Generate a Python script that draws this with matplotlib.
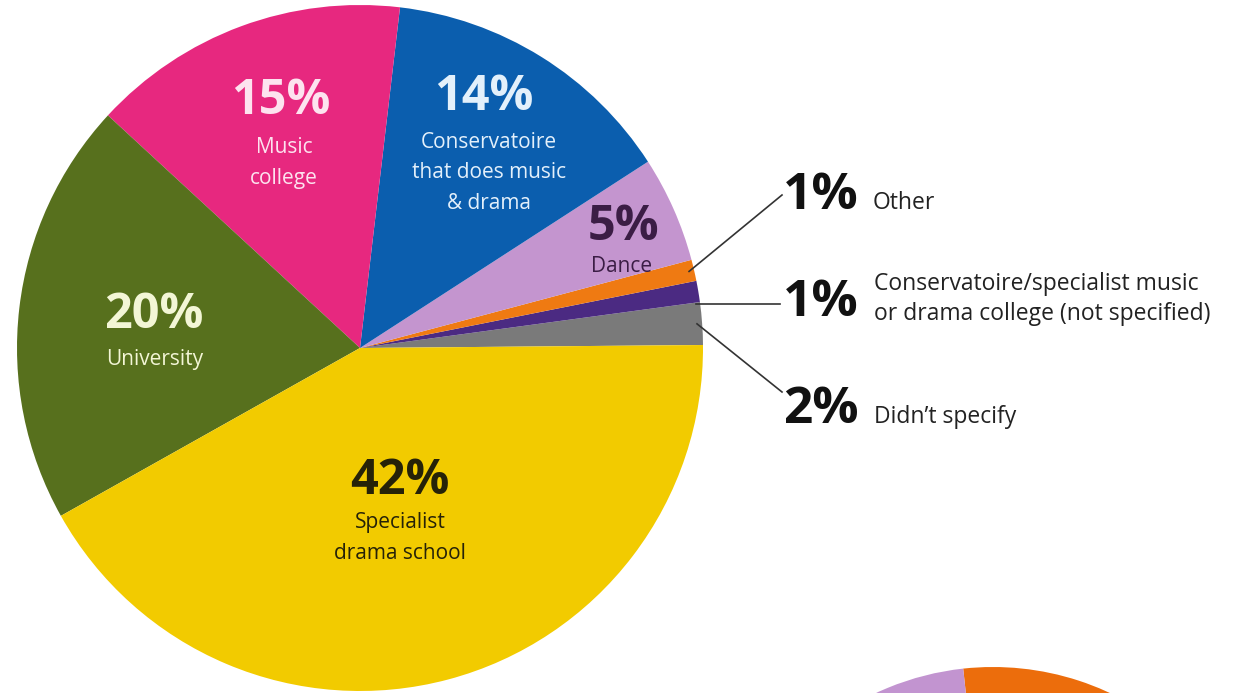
import matplotlib
matplotlib.use("Agg")
import matplotlib.pyplot as plt
import numpy as np

plt.rcParams['font.family'] = ['Open Sans', 'DejaVu Sans']

# main pie, counter-clockwise from the right-hand edge
categories = ["Didn\u2019t specify",
              "Conservatoire/specialist music\nor drama college (not specified)",
              "Other", "Dance",
              "Conservatoire\nthat does music\n& drama",
              "Music\ncollege", "University",
              "Specialist\ndrama school"]
shares = [2, 1, 1, 5, 14, 15, 20, 42]
colors = ['#7a7a7a', '#4b2a82', '#ef7a12', '#c495cf', '#0b5eae',
          '#e7287f', '#57701d', '#f2cb00']

# second pie, only its top edge is visible at the bottom
second_shares = [27, 9, 64]
second_colors = ['#ec6d0c', '#c294d0', '#f2cb00']

W, H = 1236, 693


def Y(y):
    return H - y


fig = plt.figure(figsize=(12.36, 6.93), dpi=100)
ax = fig.add_axes([0, 0, 1, 1])

wedges, _ = ax.pie(shares, colors=colors, startangle=0.5, radius=343,
                   center=(360, Y(348)), wedgeprops=dict(linewidth=0))
ax.pie(second_shares, colors=second_colors, startangle=-1, radius=276,
       center=(993, Y(943)), wedgeprops=dict(linewidth=0))

ax.set_xlim(0, W)
ax.set_ylim(0, H)
ax.axis('off')

# labels inside the pie: (index, pct pos, label pos, colour)
inside = [(6, (154, 315), (155, 359), '#f3f6d6'),
          (5, (281, 102), (284, 163), '#fde3ef'),
          (4, (484, 97), (489, 173), '#e3f0fb'),
          (3, (624, 228), (622, 266), '#3b1d45'),
          (7, (400, 482), (400, 538), '#262208')]
for i, (px, py), (lx, ly), c in inside:
    ax.text(px, Y(py), f"{shares[i]}%", color=c, fontsize=35,
            fontweight='bold', ha='center', va='center')
    ax.text(lx, Y(ly), categories[i], color=c, fontsize=15,
            ha='center', va='center', linespacing=1.6)

# labels outside with leader lines: (index, line end, pct pos, text pos)
outside = [(2, (782, 195), (821, 196), (873, 203)),
           (1, (780, 304), (821, 303), (874, 299)),
           (0, (782, 392), (821, 410), (874, 417))]
for i, (ex, ey), (px, py), (tx, ty) in outside:
    w = wedges[i]
    cx, cy = w.center
    if i == 1:
        # horizontal leader
        sy = Y(ey)
        sx = cx + np.sqrt(w.r ** 2 - (sy - cy) ** 2) - 4
    else:
        mid = np.deg2rad((w.theta1 + w.theta2) / 2)
        sx = cx + 0.985 * w.r * np.cos(mid)
        sy = cy + 0.985 * w.r * np.sin(mid)
    ax.plot([sx, ex], [sy, Y(ey)], color='#333333', lw=1.2)
    ax.text(px, Y(py), f"{shares[i]}%", color='#111111', fontsize=37,
            fontweight='bold', ha='center', va='center')
    ax.text(tx, Y(ty), categories[i], color='#222222', fontsize=16.5,
            ha='left', va='center', linespacing=1.3)

fig.savefig('out.png', dpi=100)
